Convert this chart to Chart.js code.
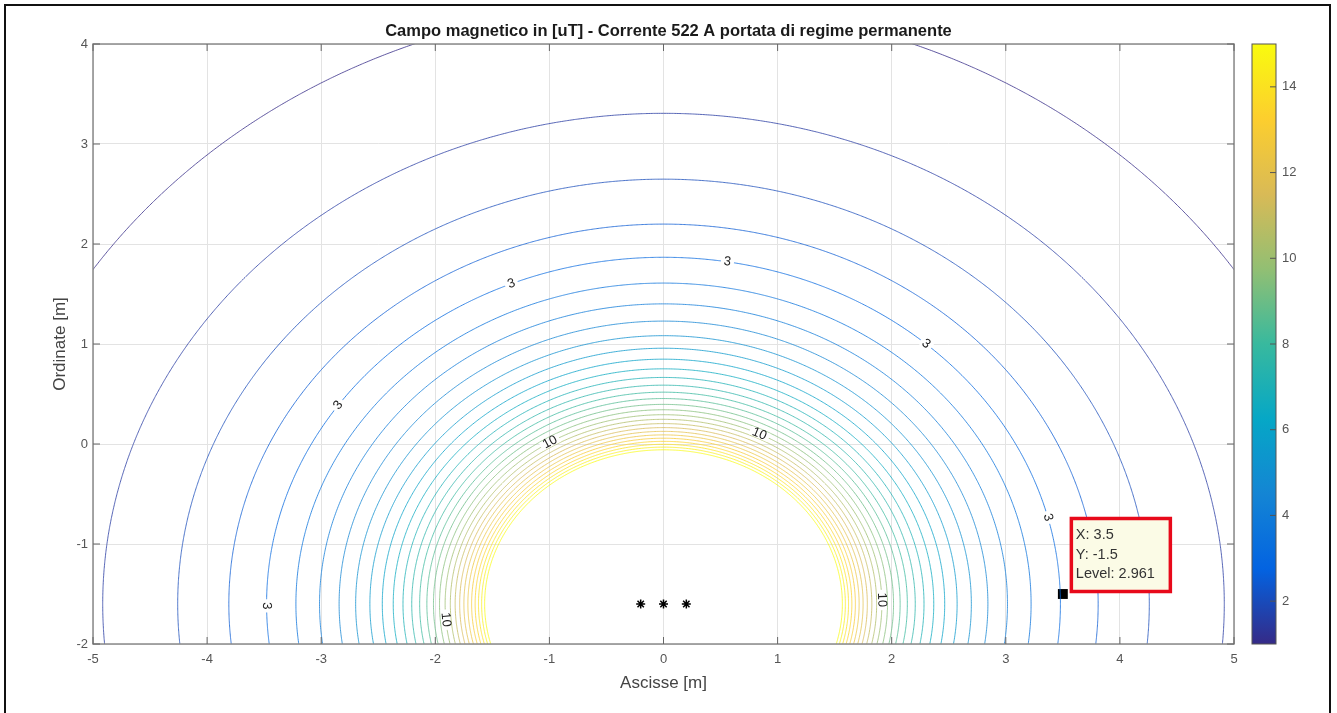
<!DOCTYPE html>
<html lang="it">
<head>
  <meta charset="UTF-8">
  <title>Campo magnetico - Corrente 522 A</title>
  <style>
    body { margin: 0; background: #fff; }
    #chart { display: block; }
  </style>
</head>
<body>
  <canvas id="chart" width="1337" height="713"></canvas>

  <script src="https://cdn.jsdelivr.net/npm/chart.js"></script>
  <script>
    // ---- data ----
    const titleText = "Campo magnetico in [uT] - Corrente 522 A portata di regime permanente";
    const current = 522;                 // A
    const condX = [-0.2, 0, 0.2];        // conductor abscissae [m]
    const condY = -1.6;                  // conductor ordinate [m]
    const phases = [0, -120, 120];       // deg
    const levels = [1, 1.5, 2, 2.5, 3, 3.5, 4, 4.5, 5, 5.5, 6, 6.5, 7, 7.5,
                    8, 8.5, 9, 9.5, 10, 10.5, 11, 11.5, 12, 12.5, 13, 13.5, 14, 14.5, 15];
    const xTicks = [-5, -4, -3, -2, -1, 0, 1, 2, 3, 4, 5];
    const yTicks = [-2, -1, 0, 1, 2, 3, 4];
    const cbTicks = [2, 4, 6, 8, 10, 12, 14];
    const cbRange = [1, 15];
    // inline contour labels: level and angle (deg) around the conductors
    const labelLevels = [3, 3, 3, 3, 3, 3, 10, 10, 10, 10];
    const labelAngles = [80.7, 112.6, 48.5, 145.1, 14.4, 180.3, 121.6, 63.7, 1.2, 184.7];
    // datatip
    const tipX = 3.5, tipY = -1.5, tipLevel = 2.961;

    const FONT = "'Liberation Sans', Arial, sans-serif";

    // parula colormap stops
    const parula = ['#352a87', '#0363e1', '#1485d4', '#06a7c6', '#38b99e',
                    '#92bf73', '#d9ba56', '#fcce2e', '#f9fb0e'];

    function hexToRgb(h) {
      return [parseInt(h.substr(1, 2), 16), parseInt(h.substr(3, 2), 16), parseInt(h.substr(5, 2), 16)];
    }
    function parulaColor(t, alpha) {
      t = Math.max(0, Math.min(1, t));
      const p = t * (parula.length - 1);
      const i = Math.min(Math.floor(p), parula.length - 2);
      const f = p - i;
      const a = hexToRgb(parula[i]), b = hexToRgb(parula[i + 1]);
      const c = a.map((v, k) => Math.round(v + (b[k] - v) * f));
      return `rgba(${c[0]},${c[1]},${c[2]},${alpha})`;
    }

    // rms flux density [uT] of the three phase conductors
    function fieldAt(x, y) {
      let bxr = 0, bxi = 0, byr = 0, byi = 0;
      for (let k = 0; k < condX.length; k++) {
        const dx = x - condX[k], dy = y - condY;
        const c = 0.2 * current / (dx * dx + dy * dy);
        const ph = phases[k] * Math.PI / 180;
        const bx = -dy * c, by = dx * c;
        bxr += bx * Math.cos(ph); bxi += bx * Math.sin(ph);
        byr += by * Math.cos(ph); byi += by * Math.sin(ph);
      }
      return Math.sqrt(bxr * bxr + bxi * bxi + byr * byr + byi * byi);
    }

    // point of the contour "level" along the ray at angle deg from the centre conductor
    function contourPoint(level, deg) {
      const t = deg * Math.PI / 180, c = Math.cos(t), s = Math.sin(t);
      let lo = 0.35, hi = 12;
      for (let i = 0; i < 40; i++) {
        const mid = (lo + hi) / 2;
        if (fieldAt(condX[1] + mid * c, condY + mid * s) > level) lo = mid; else hi = mid;
      }
      const r = (lo + hi) / 2;
      return { x: condX[1] + r * c, y: condY + r * s };
    }

    const contourSets = levels.map(L => {
      const pts = [];
      for (let a = 0; a <= 360; a += 1) pts.push(contourPoint(L, a));
      return {
        label: 'L' + L,
        data: pts,
        showLine: true,
        borderColor: parulaColor((L - cbRange[0]) / (cbRange[1] - cbRange[0]), 0.78),
        borderWidth: 1,
        pointRadius: 0,
        tension: 0.001   // non-zero: avoids the fast-path pixel snapping
      };
    });

    const markerSets = [
      {
        label: 'conduttori',
        data: condX.map(x => ({ x, y: condY })),
        pointStyle: 'star',
        pointRadius: 4.5,
        borderColor: '#000',
        borderWidth: 1.5,
        showLine: false
      },
      {
        label: 'datatip',
        data: [{ x: tipX, y: tipY }],
        pointStyle: 'rect',
        pointRadius: 7,
        backgroundColor: '#000',
        borderColor: '#000',
        borderWidth: 0,
        showLine: false
      }
    ];

    const decor = {
      id: 'decor',
      beforeDraw(chart) {
        const ctx = chart.ctx;
        ctx.save();
        ctx.fillStyle = '#fff';
        ctx.fillRect(0, 0, chart.width, chart.height);
        ctx.strokeStyle = '#111';
        ctx.lineWidth = 2;
        ctx.strokeRect(5, 5, 1325, 720);
        ctx.restore();
      },
      afterDatasetsDraw(chart) {
        const ctx = chart.ctx;
        const xs = chart.scales.x, ys = chart.scales.y, cb = chart.scales.cb;
        const a = chart.chartArea;
        ctx.save();

        // contour labels
        ctx.font = `13px ${FONT}`;
        ctx.textAlign = 'center';
        ctx.textBaseline = 'middle';
        labelLevels.forEach((L, i) => {
          const p = contourPoint(L, labelAngles[i]);
          const p1 = contourPoint(L, labelAngles[i] - 0.5);
          const p2 = contourPoint(L, labelAngles[i] + 0.5);
          const px = xs.getPixelForValue(p.x), py = ys.getPixelForValue(p.y);
          let ang = Math.atan2(ys.getPixelForValue(p2.y) - ys.getPixelForValue(p1.y),
                               xs.getPixelForValue(p2.x) - xs.getPixelForValue(p1.x));
          if (ang > Math.PI / 2) ang -= Math.PI;
          if (ang <= -Math.PI / 2) ang += Math.PI;
          const txt = String(L);
          const w = ctx.measureText(txt).width;
          ctx.save();
          ctx.translate(px, py);
          ctx.rotate(ang);
          ctx.fillStyle = '#fff';
          ctx.fillRect(-w / 2 - 3, -4.5, w + 6, 9);
          ctx.fillStyle = '#222';
          ctx.fillText(txt, 0, 0);
          ctx.restore();
        });

        // axes box and inward ticks
        ctx.strokeStyle = '#8a8a8a';
        ctx.lineWidth = 1.5;
        ctx.strokeRect(a.left, a.top, a.right - a.left, a.bottom - a.top);
        ctx.lineWidth = 1;
        ctx.strokeStyle = '#666';
        ctx.beginPath();
        xTicks.forEach(v => {
          const x = xs.getPixelForValue(v);
          ctx.moveTo(x, a.bottom); ctx.lineTo(x, a.bottom - 7);
          ctx.moveTo(x, a.top); ctx.lineTo(x, a.top + 7);
        });
        yTicks.forEach(v => {
          const y = ys.getPixelForValue(v);
          ctx.moveTo(a.left, y); ctx.lineTo(a.left + 7, y);
          ctx.moveTo(a.right, y); ctx.lineTo(a.right - 7, y);
        });
        ctx.stroke();

        // colorbar
        const cbL = 1252, cbW = 24;
        const yTop = cb.getPixelForValue(cbRange[1]), yBot = cb.getPixelForValue(cbRange[0]);
        const grad = ctx.createLinearGradient(0, yBot, 0, yTop);
        parula.forEach((c, i) => grad.addColorStop(i / (parula.length - 1), c));
        ctx.fillStyle = grad;
        ctx.fillRect(cbL, yTop, cbW, yBot - yTop);
        ctx.strokeStyle = '#555';
        ctx.lineWidth = 1;
        ctx.strokeRect(cbL, yTop, cbW, yBot - yTop);
        ctx.beginPath();
        cbTicks.forEach(v => {
          const y = cb.getPixelForValue(v);
          ctx.moveTo(cbL + cbW, y); ctx.lineTo(cbL + cbW - 6, y);
        });
        ctx.stroke();

        // datatip
        const mx = xs.getPixelForValue(tipX), my = ys.getPixelForValue(tipY);
        const bx = mx + 7, by = my - 77, bw = 102, bh = 76;
        ctx.fillStyle = '#fbfbe6';
        ctx.fillRect(bx, by, bw, bh);
        ctx.strokeStyle = '#e8091a';
        ctx.lineWidth = 3.5;
        ctx.strokeRect(bx + 1.5, by + 1.5, bw - 3, bh - 3);
        ctx.fillStyle = '#333';
        ctx.font = `14.5px ${FONT}`;
        ctx.textAlign = 'left';
        ctx.textBaseline = 'middle';
        ctx.fillText(`X: ${tipX}`, bx + 6, by + 18);
        ctx.fillText(`Y: ${tipY}`, bx + 6, by + 38);
        ctx.fillText(`Level: ${tipLevel}`, bx + 6, by + 57);

        ctx.restore();
      }
    };

    new Chart(document.getElementById('chart'), {
      type: 'scatter',
      data: { datasets: [...contourSets, ...markerSets] },
      options: {
        responsive: false,
        animation: false,
        events: [],
        layout: { padding: 0 },
        plugins: {
          legend: { display: false },
          tooltip: { enabled: false },
          title: {
            display: true,
            text: titleText,
            color: '#1a1a1a',
            font: { family: FONT, size: 16.5, weight: 'bold', lineHeight: 1.2 },
            padding: { top: 21.1, bottom: 3.1 }
          }
        },
        scales: {
          x: {
            type: 'linear',
            min: -5, max: 5,
            afterBuildTicks: s => { s.ticks = xTicks.map(v => ({ value: v })); },
            afterFit: s => { s.height = 69; },
            ticks: { color: '#555', font: { family: FONT, size: 13 }, padding: 8 },
            grid: { color: '#e3e3e3', drawTicks: false },
            border: { display: false },
            title: {
              display: true, text: 'Ascisse [m]', color: '#444',
              font: { family: FONT, size: 17 }, padding: { top: 0, bottom: 19 }
            }
          },
          y: {
            type: 'linear',
            min: -2, max: 4,
            afterBuildTicks: s => { s.ticks = yTicks.map(v => ({ value: v })); },
            afterFit: s => { s.width = 93; },
            ticks: { color: '#555', font: { family: FONT, size: 13 }, padding: 5 },
            grid: { color: '#e3e3e3', drawTicks: false },
            border: { display: false },
            title: {
              display: true, text: 'Ordinate [m]', color: '#444',
              font: { family: FONT, size: 17 }, padding: { top: 50, bottom: 0 }
            }
          },
          cb: {
            type: 'linear',
            position: 'right',
            min: cbRange[0], max: cbRange[1],
            afterBuildTicks: s => { s.ticks = cbTicks.map(v => ({ value: v })); },
            afterFit: s => { s.width = 103; s.paddingTop = 0; s.paddingBottom = 0; },
            ticks: { color: '#555', font: { family: FONT, size: 13 }, padding: 48 },
            grid: { display: false, drawTicks: false },
            border: { display: false }
          }
        }
      },
      plugins: [decor]
    });
  </script>
</body>
</html>
